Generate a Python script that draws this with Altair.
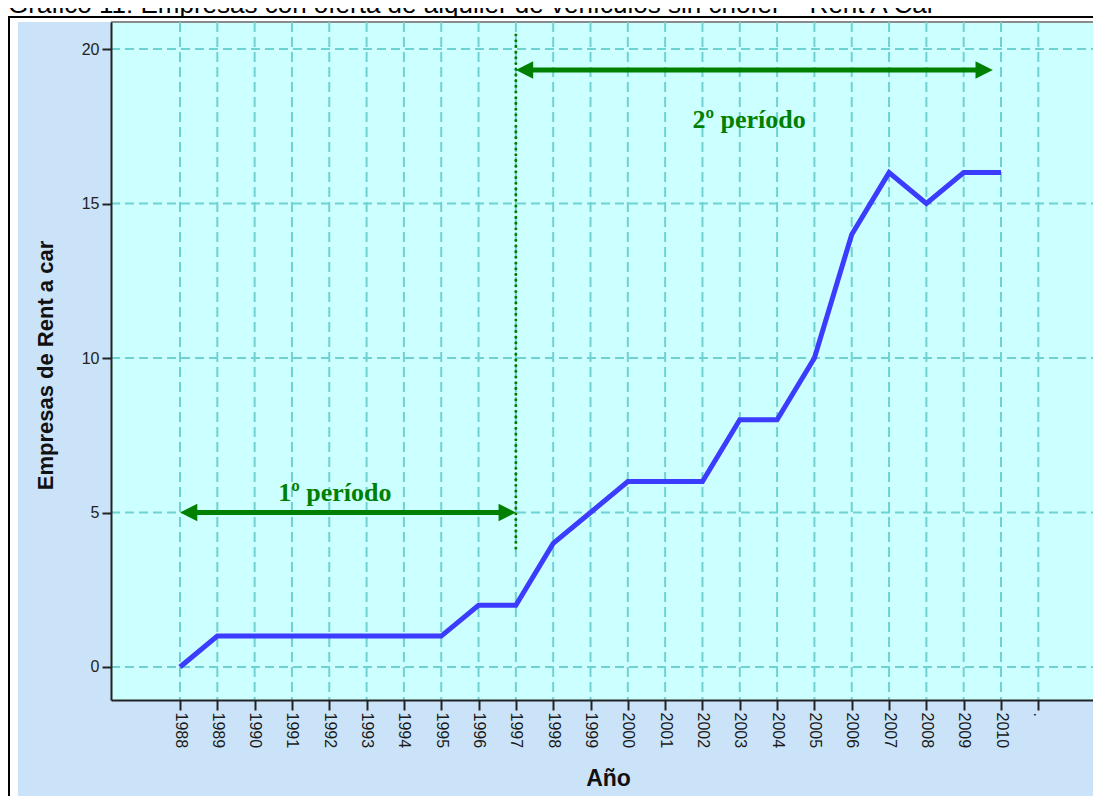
import altair as alt
import pandas as pd

# ---------------- data ----------------
years = list(range(1988, 2011))
empresas = [0, 1, 1, 1, 1, 1, 1, 1, 2, 2, 4, 5, 6, 6, 6, 8, 8, 10, 14, 16, 15, 16, 16]
tick_years = list(range(1988, 2012))          # 2011 is the empty "." category
y_ticks = [0, 5, 10, 15, 20]

title_text = "Gráfico 11: Empresas con oferta de alquiler de vehículos sin chofer – Rent A Car"
x_title = "Año"
y_title = "Empresas de Rent a car"

divider_year = [1997]
divider_from = [3.85]
divider_to = [20.52]

arrow_y = [5, 19.32]
arrow_start = [1988, 1997]
arrow_end = [1997, 2009.78]

period_labels = ["1º período", "2º período"]
label_x = [1992.15, 2003.25]
label_y = [5.37, 17.44]

# ---------------- layout ----------------
W, H = 982, 678
X_DOMAIN = [1986.151, 2012.465]
Y_DOMAIN = [-1.068, 20.874]
HEAD = 8.5 / 37.318   # arrow head half length in years

line_df = pd.DataFrame({"x": years, "y": empresas})
vgrid_df = pd.DataFrame({"x": tick_years})
hgrid_df = pd.DataFrame({"y": y_ticks})
div_df = pd.DataFrame({"x": divider_year, "y": divider_from, "y2": divider_to})
arrow_df = pd.DataFrame({
    "x": [s + HEAD for s in arrow_start],
    "x2": [e - HEAD for e in arrow_end],
    "y": arrow_y,
})
head_l_df = pd.DataFrame({"x": arrow_start, "y": arrow_y})
head_r_df = pd.DataFrame({"x": arrow_end, "y": arrow_y})
lab_df = pd.DataFrame({"x": label_x, "y": label_y, "t": period_labels})
one = pd.DataFrame({"t": [title_text]})

xs = alt.Scale(domain=X_DOMAIN, nice=False, zero=False)
ys = alt.Scale(domain=Y_DOMAIN, nice=False, zero=False)

FONT = "Liberation Sans"

x_axis = alt.Axis(
    values=tick_years, grid=False, title=x_title,
    labelExpr="datum.value == 2011 ? '.' : format(datum.value, 'd')",
    labelAngle=90, labelAlign="left", labelBaseline="middle",
    labelFontSize=16, labelFont=FONT, labelColor="#1a1a1a", labelPadding=2,
    labelOverlap=False, labelFlush=False, labelBound=False,
    tickSize=10, tickWidth=2, tickColor="#222222",
    domainColor="#222222", domainWidth=2,
    titleFont=FONT, titleFontSize=23, titleFontWeight="bold", titleColor="#111111",
    titleX=497, titleY=78, titleBaseline="middle", titleAlign="center",
    zindex=1,
)
y_axis = alt.Axis(
    values=y_ticks, grid=False, title=y_title,
    labelFontSize=16, labelFont=FONT, labelColor="#222222", labelPadding=3,
    tickSize=9, tickWidth=2, tickColor="#222222",
    domainColor="#222222", domainWidth=2,
    titleFont=FONT, titleFontSize=22, titleFontWeight="bold", titleColor="#111111",
    titleX=-66, titleY=343, titleAngle=-90, titleBaseline="middle", titleAlign="center",
    zindex=1,
)

X = lambda f="x": alt.X(f"{f}:Q", scale=xs, axis=x_axis)
Y = lambda f="y": alt.Y(f"{f}:Q", scale=ys, axis=y_axis)

# frame / backgrounds (decoration)
frame = alt.Chart(one).mark_rect(fill="white", stroke="black", strokeWidth=2).encode(
    x=alt.value(-102), x2=alt.value(W + 60), y=alt.value(-5), y2=alt.value(H + 200))
outer_bg = alt.Chart(one).mark_rect(fill="#cbe3f8").encode(
    x=alt.value(-93), x2=alt.value(W + 60), y=alt.value(0), y2=alt.value(H + 200))
plot_bg = alt.Chart(one).mark_rect(fill="#ccffff").encode(
    x=alt.value(0), x2=alt.value(W), y=alt.value(0), y2=alt.value(H))
top_edge = alt.Chart(one).mark_rule(color="#8a8a8a", strokeWidth=2).encode(
    x=alt.value(0), x2=alt.value(W), y=alt.value(0))
title = alt.Chart(one).mark_text(
    align="left", baseline="alphabetic", font=FONT, fontSize=26, color="black"
).encode(x=alt.value(-103), y=alt.value(-9), text="t:N")

GRID = "#6fd2d2"
vgrid = alt.Chart(vgrid_df).mark_rule(color=GRID, strokeWidth=2, strokeDash=[10, 5]).encode(
    x=X(), y=alt.value(0), y2=alt.value(H))
hgrid = alt.Chart(hgrid_df).mark_rule(color=GRID, strokeWidth=2, strokeDash=[9, 5]).encode(
    y=Y(), x=alt.value(0), x2=alt.value(W))

divider = alt.Chart(div_df).mark_rule(
    color="#007a00", strokeWidth=3, strokeDash=[0.1, 5.6], strokeCap="round"
).encode(x=X(), y=Y(), y2="y2:Q")

GREEN = "#008000"
arrows = alt.Chart(arrow_df).mark_rule(color=GREEN, strokeWidth=5).encode(
    x=X(), x2="x2:Q", y=Y())
heads_l = alt.Chart(head_l_df).mark_point(
    shape="M0,0L2,-1L2,1Z", size=300, filled=True, color=GREEN, opacity=1
).encode(x=X(), y=Y())
heads_r = alt.Chart(head_r_df).mark_point(
    shape="M0,0L-2,-1L-2,1Z", size=300, filled=True, color=GREEN, opacity=1
).encode(x=X(), y=Y())
labels = alt.Chart(lab_df).mark_text(
    font="Liberation Serif", fontSize=26, fontWeight="bold", color=GREEN,
    align="center", baseline="alphabetic"
).encode(x=X(), y=Y(), text="t:N")

line = alt.Chart(line_df).mark_line(color="#3c3cff", strokeWidth=5).encode(x=X(), y=Y())

chart = alt.layer(
    frame, outer_bg, plot_bg, top_edge, vgrid, hgrid, divider,
    arrows, heads_l, heads_r, labels, line, title
).properties(
    width=W, height=H,
    padding={"left": 103, "top": 14, "right": 0, "bottom": 96},
    autosize=alt.AutoSizeParams(type="none"),
).configure(background="white").configure_view(stroke=None, fill=None)

chart.save("out.html", embed_options={"renderer": "svg", "actions": False})
